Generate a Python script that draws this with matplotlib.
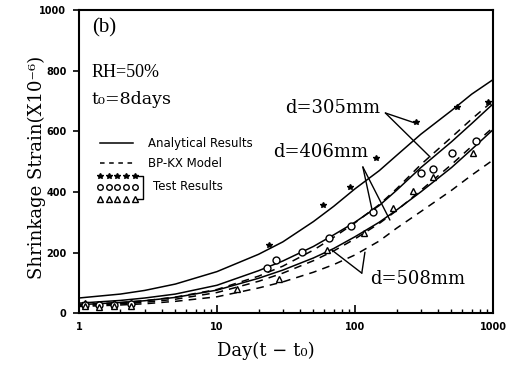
import numpy as np
import matplotlib
matplotlib.use("Agg")
import matplotlib.pyplot as plt

# ---------------------------------------------------------------- data ---- #
days = [1, 2, 3, 5, 10, 20, 30, 50, 70, 100, 150, 200, 300, 500, 700, 1000]

# analytical results
ana_305 = [50, 63, 75, 96, 137, 194, 235, 302, 352, 410, 470, 520, 590, 668, 722, 770]
ana_406 = [33, 42, 50, 63, 92, 140, 172, 220, 258, 300, 355, 405, 480, 565, 625, 690]
ana_508 = [28, 35, 41, 52, 76, 115, 142, 182, 213, 252, 300, 340, 400, 480, 540, 605]

# BP-KX model
bpkx_305 = [28, 35, 41, 53, 78, 122, 155, 208, 250, 298, 358, 410, 490, 580, 640, 700]
bpkx_406 = [25, 31, 36, 46, 68, 105, 132, 173, 205, 245, 296, 338, 405, 490, 550, 612]
bpkx_508 = [22, 27, 31, 39, 54, 83, 103, 135, 160, 192, 238, 280, 335, 405, 455, 505]

# test results
star_t = [1.1, 1.4, 1.8, 2.4, 24, 59, 92, 142, 276, 552, 920]
star_v = [33, 31, 33, 34, 226, 358, 416, 512, 630, 680, 696]
circ_t = [1.1, 1.4, 1.8, 2.4, 23, 27, 41, 65, 93, 135, 300, 366, 505, 755]
circ_v = [27, 26, 28, 30, 149, 175, 201, 247, 287, 333, 462, 475, 528, 568]
tri_t = [1.1, 1.4, 1.8, 2.4, 14, 28, 63, 116, 188, 263, 368, 717]
tri_v = [22, 21, 23, 25, 79, 112, 208, 264, 347, 403, 449, 528]

serif = ["DejaVu Serif"]
times = ["Liberation Serif", "DejaVu Serif"]
fs = 13

fig = plt.figure(figsize=(5.19, 3.65), dpi=100)
ax = fig.add_axes([0.152, 0.142, 0.798, 0.831])

for v in (ana_305, ana_406, ana_508):
    ax.plot(days, v, color="black", lw=1.1)
for v in (bpkx_305, bpkx_406, bpkx_508):
    ax.plot(days, v, color="black", lw=1.1, ls=(0, (5, 4)))

ax.plot(star_t, star_v, ls="none", marker="*", ms=4, color="black")
ax.plot(circ_t, circ_v, ls="none", marker="o", ms=5, mfc="white", mec="black", mew=1)
ax.plot(tri_t, tri_v, ls="none", marker="^", ms=5, mfc="white", mec="black", mew=1)

ax.set_xscale("log")
ax.set_xlim(1, 1000)
ax.set_ylim(0, 1000)
ax.set_yticks(np.arange(0, 1001, 200))
ax.set_xticks([1, 10, 100, 1000], ["1", "10", "100", "1000"])

for s in ["top", "bottom", "left", "right"]:
    ax.spines[s].set_linewidth(1.5)
ax.tick_params(axis="y", direction="out", length=4, width=1.2, pad=5)
ax.tick_params(axis="x", which="major", direction="in", length=6, width=1.2, pad=6)
ax.tick_params(axis="x", which="minor", direction="in", length=3, width=1)
for lab in ax.get_xticklabels() + ax.get_yticklabels():
    lab.set_fontfamily("DejaVu Sans")
    lab.set_fontweight("bold")
    lab.set_fontsize(7)

ax.set_xlabel("Day(t − t₀)", family=serif, fontsize=fs)
ax.set_ylabel("Shrinkage Strain(X10⁻⁶)", family=serif, fontsize=fs)
ax.xaxis.set_label_coords(0.452, -0.095)
ax.yaxis.set_label_coords(-0.08, 0.48)

# panel notes
ax.text(0.031, 0.94, "(b)", transform=ax.transAxes, family=times, fontsize=15, va="center")
ax.text(0.031, 0.795, "RH=50%", transform=ax.transAxes, family=times, fontsize=13, va="center")
ax.text(0.031, 0.703, "t₀=8days", transform=ax.transAxes, family=serif, fontsize=12.5, va="center")

# hand-made legend
tr = ax.transAxes
ax.plot([0.051, 0.130], [0.561, 0.561], color="black", lw=1.1, transform=tr)
ax.plot([0.051, 0.130], [0.495, 0.495], color="black", lw=1.1, ls=(0, (3, 3)), transform=tr)
kx = np.linspace(0.051, 0.135, 5)
ax.plot(kx, [0.452] * 5, ls="none", marker="*", ms=4, color="black", transform=tr)
ax.plot(kx, [0.416] * 5, ls="none", marker="o", ms=4, mfc="white", mec="black", transform=tr)
ax.plot(kx, [0.376] * 5, ls="none", marker="^", ms=4, mfc="white", mec="black", transform=tr)
ax.plot([0.140, 0.155, 0.155, 0.140], [0.452, 0.452, 0.376, 0.376], color="black", lw=1, transform=tr)
ax.text(0.167, 0.561, "Analytical Results", transform=tr, family="DejaVu Sans", fontsize=8.5, va="center")
ax.text(0.167, 0.495, "BP-KX Model", transform=tr, family="DejaVu Sans", fontsize=8.5, va="center")
ax.text(0.179, 0.416, "Test Results", transform=tr, family="DejaVu Sans", fontsize=8.5, va="center")

# size labels with pointers
pointers = [
    ("d=305mm", (31, 677), (166, 660), [(272, 627), (350, 515)]),
    ("d=406mm", (25.4, 531), (114, 482), [(133, 340), (179, 307)]),
    ("d=508mm", (128, 112), (112, 132), [(68, 208), (118, 201)]),
]
for txt, pos, apex, tips in pointers:
    ax.text(pos[0], pos[1], txt, family=serif, fontsize=fs, va="center")
    for tip in tips:
        ax.annotate("", xy=tip, xytext=apex,
                    arrowprops=dict(arrowstyle="-", color="black", lw=1, shrinkA=0, shrinkB=0))

fig.savefig("out.png", dpi=100)
